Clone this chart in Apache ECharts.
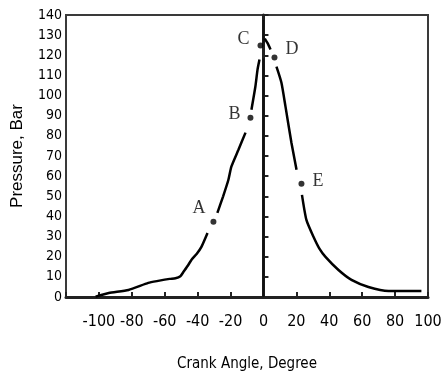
<!DOCTYPE html>
<html>
<head>
<meta charset="utf-8">
<script src="https://cdn.jsdelivr.net/npm/echarts@6/dist/echarts.min.js"></script>
<style>
html,body{margin:0;padding:0;background:#fff;}
#chart{width:448px;height:379px;}
</style>
</head>
<body>
<div id="chart"></div>
<script>
// Pressure curve (crank angle in degrees, pressure in bar); null pressure = gap around a marked point
var crankAngle = [-102, -94, -82, -70, -64, -57, -53.5, -50.5, -48.6, -46, -43.8, -40.5, -37.7, -34,
  -31,
  -28, -24.5, -21.3, -19.5, -15.2, -10.9,
  -8.5,
  -7.3, -4.9, -3.6, -2.4,
  -1.5,
  0.8, 2.5, 4.3,
  6,
  7.9, 10.9, 13.4, 17.0, 20.1,
  22,
  23.4, 26.1, 30.4, 34, 37.7, 45.6, 53.5, 63.8, 76, 86, 96];
var pressure = [0.2, 2.0, 3.5, 7.0, 8.0, 9.0, 9.3, 10.3, 12.5, 15.5, 18.4, 21.5, 24.9, 31.8,
  null,
  41.8, 50.0, 58.2, 64.7, 73.1, 81.6,
  null,
  93.0, 104.5, 112.9, 117.9,
  null,
  128.3, 126.0, 122.9,
  null,
  114.4, 106.5, 94.5, 76.6, 63.2,
  null,
  50.7, 38.3, 29.9, 24.0, 19.9, 13.4, 8.5, 5.0, 3.0, 3.0, 3.0];

// Marked points A-E
var pointNames = ['A', 'B', 'C', 'D', 'E'];
var pointAngle = [-30.4, -7.9, -1.8, 6.7, 23.1];
var pointPressure = [37.3, 89.0, 124.9, 118.9, 56.2];

// TDC reference line at 0 degrees (null = gap)
var tdcAngle = [0, 0, 0, 0, 0];
var tdcPressure = [0, 118.4, null, 125.9, 137.5];

// Axis settings
var xMin = -120, xMax = 100, xStep = 20;
var yMin = 0, yMax = 140, yStep = 10;

function pairs(a, b) { return a.map(function (v, i) { return [v, b[i]]; }); }

var labelOffsets = {
  A: {position: 'left', offset: [0, -14]},
  B: {position: 'left', offset: [-2, -3]},
  C: {position: 'left', offset: [-3, -6]},
  D: {position: 'right', offset: [3, -8]},
  E: {position: 'right', offset: [3, -3]}
};

var condensed = '"DejaVu Sans Condensed", "DejaVu Sans", sans-serif';

var chart = echarts.init(document.getElementById('chart'), null, {renderer: 'canvas'});
chart.setOption({
  animation: false,
  backgroundColor: '#fff',
  grid: {left: 66, top: 15, right: 20, bottom: 82, show: true, borderColor: '#3a3a3a', borderWidth: 2, backgroundColor: 'transparent'},
  xAxis: {
    type: 'value', min: xMin, max: xMax, interval: xStep,
    name: 'Crank Angle, Degree', nameLocation: 'middle', nameGap: 60,
    nameTextStyle: {fontFamily: condensed, fontSize: 15, color: '#000'},
    axisLine: {show: true, lineStyle: {color: '#222', width: 3}},
    axisTick: {show: true, inside: true, length: 5, lineStyle: {color: '#222', width: 2}},
    axisLabel: {margin: 17, fontFamily: condensed, fontSize: 16, color: '#000',
      formatter: function (v) { return v === xMin ? '' : String(v); }},
    splitLine: {show: false}
  },
  yAxis: {
    type: 'value', min: yMin, max: yMax, interval: yStep,
    name: 'Pressure, Bar', nameLocation: 'middle', nameGap: 40,
    nameTextStyle: {fontFamily: 'Liberation Sans', fontSize: 17, color: '#000'},
    axisLine: {show: true, lineStyle: {color: '#222', width: 3}},
    axisTick: {show: true, inside: true, length: 5, lineStyle: {color: '#222', width: 2}},
    axisLabel: {margin: 4, fontFamily: condensed, fontSize: 14, color: '#000'},
    splitLine: {show: false}
  },
  series: [
    {
      type: 'line', data: pairs(tdcAngle, tdcPressure), symbol: 'none', connectNulls: false,
      lineStyle: {color: '#111', width: 2}, z: 2
    },
    {
      type: 'line', data: pairs(crankAngle, pressure), symbol: 'none', smooth: 0.2, connectNulls: false,
      lineStyle: {color: '#000', width: 2.5}, z: 3
    },
    {
      type: 'scatter', symbol: 'circle', symbolSize: 6,
      itemStyle: {color: '#000'}, z: 4,
      data: pointNames.map(function (n, i) {
        return {value: [pointAngle[i], pointPressure[i]], name: n,
          label: {show: true, formatter: n, position: labelOffsets[n].position, offset: labelOffsets[n].offset,
            fontFamily: 'Liberation Serif', fontSize: 18, color: '#000'}};
      })
    }
  ]
});
</script>
</body>
</html>
